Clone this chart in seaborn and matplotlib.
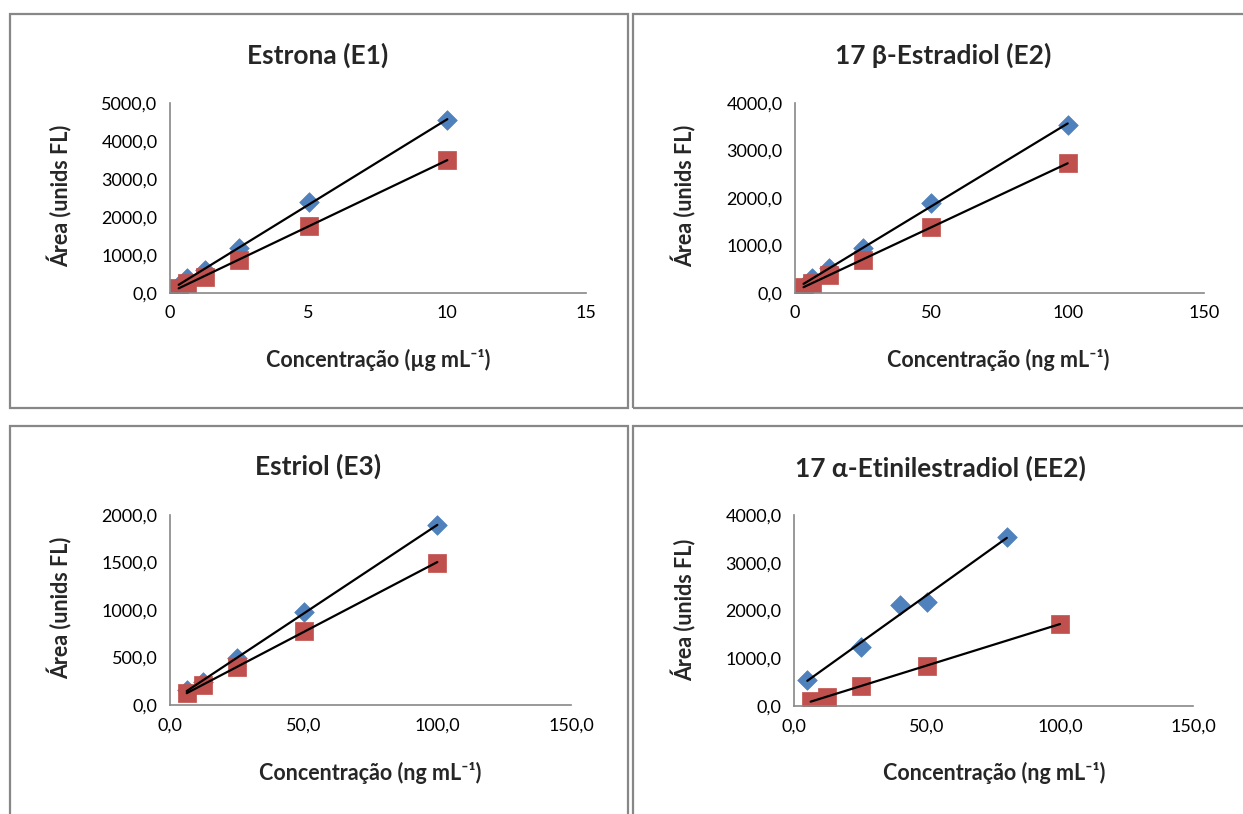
import numpy as np
import pandas as pd
import matplotlib
matplotlib.use("Agg")
import matplotlib.pyplot as plt
import seaborn as sns
from matplotlib.ticker import FuncFormatter, MultipleLocator
from matplotlib.patches import Rectangle

# data
e1_x = [0.3125, 0.625, 1.25, 2.5, 5, 10]
e1_blue = [200, 390, 600, 1180, 2390, 4550]
e1_red = [130, 260, 420, 870, 1760, 3500]

e2_x = [3.125, 6.25, 12.5, 25, 50, 100]
e2_blue = [150, 310, 530, 940, 1890, 3540]
e2_red = [120, 210, 380, 700, 1390, 2730]

e3_x = [6.25, 12.5, 25, 50, 100]
e3_blue = [160, 240, 495, 980, 1890]
e3_red = [125, 210, 400, 780, 1500]

ee2_blue_x = [5, 25, 40, 50, 80]
ee2_blue = [545, 1240, 2115, 2180, 3540]
ee2_red_x = [6.25, 12.5, 25, 50, 100]
ee2_red = [100, 190, 420, 840, 1720]

sns.set_style("white")
plt.rcParams["font.family"] = ["Lato", "DejaVu Sans"]

W, H = 1243, 814
fig = plt.figure(figsize=(W / 100, H / 100), dpi=100)

BLUE = "#4F81BD"
RED = "#C0504D"
GRAY = "#878787"


def box(x0, y0, x1, y1):
    # pixel rect -> figure fraction
    return [x0 / W, 1 - y1 / H, (x1 - x0) / W, (y1 - y0) / H]


def fmt1(v, pos):
    return f"{v:.1f}".replace(".", ",")


def fmt0(v, pos):
    return f"{v:.0f}"


# panel frames
for (x0, y0, x1, y1) in [(10, 14, 628, 408), (633, 14, 1250, 408),
                         (10, 426, 628, 830), (633, 426, 1250, 830)]:
    fig.patches.append(Rectangle((x0 / W, 1 - y1 / H), (x1 - x0) / W, (y1 - y0) / H,
                                 transform=fig.transFigure, fill=False,
                                 edgecolor=GRAY, lw=1.6))

panels = [
    dict(rect=(170, 103, 586, 293), title="Estrona (E1)", tpos=(318, 55),
         xlab="Concentração (µg mL⁻¹)", xl=(378, 360), yl=(60, 196),
         bx=e1_x, by=e1_blue, rx=e1_x, ry=e1_red,
         xlim=15, xstep=5, ylim=5000, ystep=1000, xfmt=fmt0),
    dict(rect=(795, 103, 1204, 293), title="17 β-Estradiol (E2)", tpos=(943, 55),
         xlab="Concentração (ng mL⁻¹)", xl=(998, 360), yl=(684, 196),
         bx=e2_x, by=e2_blue, rx=e2_x, ry=e2_red,
         xlim=150, xstep=50, ylim=4000, ystep=1000, xfmt=fmt0),
    dict(rect=(170, 515, 571, 705), title="Estriol (E3)", tpos=(318, 466),
         xlab="Concentração (ng mL⁻¹)", xl=(370, 773), yl=(60, 608),
         bx=e3_x, by=e3_blue, rx=e3_x, ry=e3_red,
         xlim=150, xstep=50, ylim=2000, ystep=500, xfmt=fmt1),
    dict(rect=(794, 515, 1193, 706), title="17 α-Etinilestradiol (EE2)", tpos=(940, 468),
         xlab="Concentração (ng mL⁻¹)", xl=(994, 773), yl=(684, 610),
         bx=ee2_blue_x, by=ee2_blue, rx=ee2_red_x, ry=ee2_red,
         xlim=150, xstep=50, ylim=4000, ystep=1000, xfmt=fmt1),
]

for p in panels:
    ax = fig.add_axes(box(*p["rect"]))
    sns.scatterplot(x=p["bx"], y=p["by"], ax=ax, marker="D", s=100,
                    color=BLUE, edgecolor=BLUE, linewidth=0.5, zorder=2)
    sns.scatterplot(x=p["rx"], y=p["ry"], ax=ax, marker="s", s=160,
                    color=RED, edgecolor=RED, linewidth=0.5, zorder=2)
    sns.regplot(x=np.array(p["bx"], float), y=np.array(p["by"], float), ax=ax,
                scatter=False, ci=None, color="black", line_kws={"lw": 1.6, "zorder": 3})
    sns.regplot(x=np.array(p["rx"], float), y=np.array(p["ry"], float), ax=ax,
                scatter=False, ci=None, color="black", line_kws={"lw": 1.6, "zorder": 3})
    ax.set_xlim(0, p["xlim"])
    ax.set_ylim(0, p["ylim"])
    ax.xaxis.set_major_locator(MultipleLocator(p["xstep"]))
    ax.yaxis.set_major_locator(MultipleLocator(p["ystep"]))
    ax.xaxis.set_major_formatter(FuncFormatter(p["xfmt"]))
    ax.yaxis.set_major_formatter(FuncFormatter(fmt1))
    ax.set_xlabel("")
    ax.set_ylabel("")
    for s in ["top", "right"]:
        ax.spines[s].set_visible(False)
    for s in ["left", "bottom"]:
        ax.spines[s].set_color(GRAY)
        ax.spines[s].set_linewidth(1.2)
    ax.tick_params(axis="both", direction="out", length=6, width=1.2,
                   color=GRAY, labelsize=13, labelcolor="black", pad=3)
    ax.set_facecolor("none")

    tx, ty = p["tpos"]
    fig.text(tx / W, 1 - ty / H, p["title"], ha="center", va="center",
             fontsize=19, fontweight="bold")
    xx, xy = p["xl"]
    fig.text(xx / W, 1 - xy / H, p["xlab"], ha="center", va="center",
             fontsize=15.5, fontweight="bold")
    yx, yy = p["yl"]
    fig.text(yx / W, 1 - yy / H, "Área (unids FL)", ha="center", va="center",
             rotation=90, fontsize=15.5, fontweight="bold")

fig.savefig("out.png", dpi=100, facecolor="white")
